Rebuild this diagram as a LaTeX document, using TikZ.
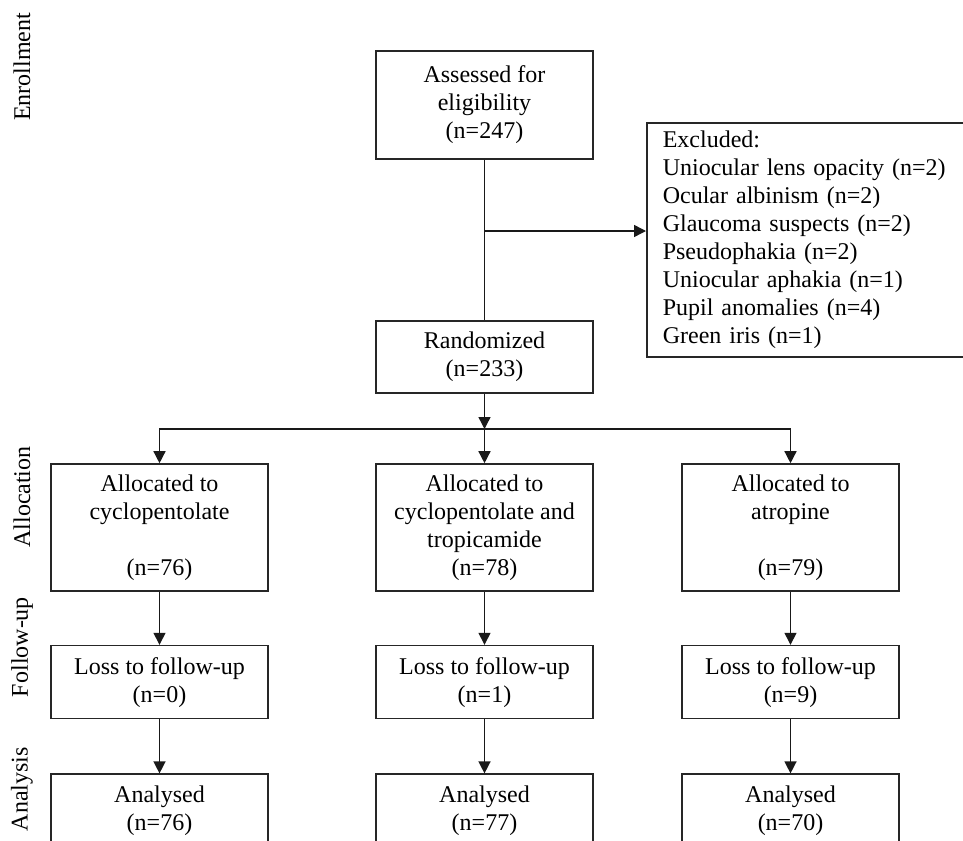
\documentclass[tikz,border=0pt]{standalone}
\usepackage{fontspec}
\setmainfont{Liberation Serif}
\usepackage{tikz}
\usetikzlibrary{arrows.meta, positioning}

\begin{document}
\begin{tikzpicture}[
    x=0.5pt, y=-0.5pt,
    node distance=26.5pt,
    box/.style={rectangle, draw=black!85, line width=0.8pt, minimum width=108.5pt, inner sep=2pt, align=center, font=\fontsize{12pt}{14pt}\selectfont},
    stage/.style={rotate=90, font=\fontsize{12pt}{14pt}\selectfont},
    arrow/.style={-{Triangle[length=6pt,width=6pt]}, line width=0.7pt, black!90}
]
\useasboundingbox (0,0) rectangle (963,840);
\clip (0,0) rectangle (963,840);

% stage labels
\node[stage] (lblEnroll) at (22,67) {Enrollment};
\node[stage] (lblAlloc) at (22,497) {Allocation};
\node[stage] (lblFollow) at (22,647) {Follow-up};
\node[stage] (lblAnalysis) at (22,789) {Analysis};

% enrollment
\node[box, minimum height=54pt] (assess) at (484.5,105) {Assessed for\\eligibility\\(n=247)};
\node[box, minimum height=36pt] (rand) at (484.5,357) {Randomized\\(n=233)};
\node[box, anchor=west, align=left, text width=160pt, inner xsep=8pt, minimum height=117pt] (excl) at (646,240)
    {Excluded:\\Uniocular lens opacity (n=2)\\Ocular albinism (n=2)\\Glaucoma suspects (n=2)\\Pseudophakia (n=2)\\Uniocular aphakia (n=1)\\Pupil anomalies (n=4)\\Green iris (n=1)};

% allocation
\node[box, minimum height=63.5pt] (allocA) at (159.5,527.5) {Allocated to\\cyclopentolate\\[14pt](n=76)};
\node[box, minimum height=63.5pt] (allocB) at (484.5,527.5) {Allocated to\\cyclopentolate and\\tropicamide\\(n=78)};
\node[box, minimum height=63.5pt] (allocC) at (790.5,527.5) {Allocated to\\atropine\\[14pt](n=79)};

% follow-up
\node[box, minimum height=36.5pt, below=of allocA] (lossA) {Loss to follow-up\\(n=0)};
\node[box, minimum height=36.5pt, below=of allocB] (lossB) {Loss to follow-up\\(n=1)};
\node[box, minimum height=36.5pt, below=of allocC] (lossC) {Loss to follow-up\\(n=9)};

% analysis
\node[box, minimum height=36.5pt, below=27pt of lossA] (anA) {Analysed\\(n=76)};
\node[box, minimum height=36.5pt, below=27pt of lossB] (anB) {Analysed\\(n=77)};
\node[box, minimum height=36.5pt, below=27pt of lossC] (anC) {Analysed\\(n=70)};

\coordinate (branch) at (484.5,231);
\coordinate (split) at (484.5,429);

\draw[line width=0.7pt, black!90] (assess) -- (rand);
\draw[arrow] (branch) -- (branch -| excl.west);
\draw[arrow] (rand) -- (split);
\draw[arrow] (split) -| (allocA);
\draw[arrow] (split) -- (allocB);
\draw[arrow] (split) -| (allocC);

\draw[arrow] (allocA) -- (lossA);
\draw[arrow] (allocB) -- (lossB);
\draw[arrow] (allocC) -- (lossC);
\draw[arrow] (lossA) -- (anA);
\draw[arrow] (lossB) -- (anB);
\draw[arrow] (lossC) -- (anC);

\end{tikzpicture}
\end{document}
